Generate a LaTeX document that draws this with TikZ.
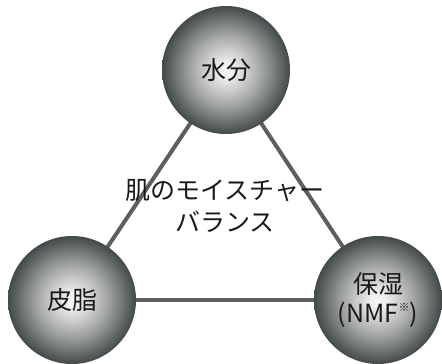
\documentclass[tikz,border=0pt]{standalone}
\usepackage{fontspec}
\setmainfont{Noto Sans CJK JP}
\definecolor{ballc}{HTML}{F4F4F4}
\definecolor{ballm}{HTML}{A2A4A4}
\definecolor{balle}{HTML}{4F5656}
\definecolor{linec}{HTML}{5E5E5E}
\pgfdeclareradialshading{ball}{\pgfpoint{0bp}{0bp}}{%
  color(0bp)=(ballc);
  color(3bp)=(ballc!94!ballm);
  color(14bp)=(ballm);
  color(23.5bp)=(balle);
  color(25bp)=(balle!85!black);
  color(50bp)=(balle!85!black)}
\tikzset{
  ballnode/.style={circle, minimum size=128pt, inner sep=0pt, shading=ball, align=center, font=\fontsize{25}{30}\selectfont, text=black!90},
  conn/.style={draw=linec, line width=4pt},
}
\begin{document}
\begin{tikzpicture}[x=1pt,y=-1pt]
\useasboundingbox (0,0) rectangle (442,364);
\coordinate (ct) at (226,70);
\coordinate (cl) at (72,300);
\coordinate (cr) at (378,300);
\draw[conn] (ct) -- (cl);
\draw[conn] (ct) -- (cr);
\draw[conn] (cl) -- (cr);
\node[ballnode] (top) at (ct) {水分};
\node[ballnode] (left) at (cl) {皮脂};
\node[ballnode, font=\fontsize{25}{29}\selectfont] (right) at (cr) {保湿\\(NMF{\raisebox{0.45em}{\fontsize{11}{11}\selectfont ※}})};
\node[align=center, font=\fontsize{25}{32}\selectfont, text=black!90] (mid) at (225,206) {肌のモイスチャー\\バランス};
\end{tikzpicture}
\end{document}
